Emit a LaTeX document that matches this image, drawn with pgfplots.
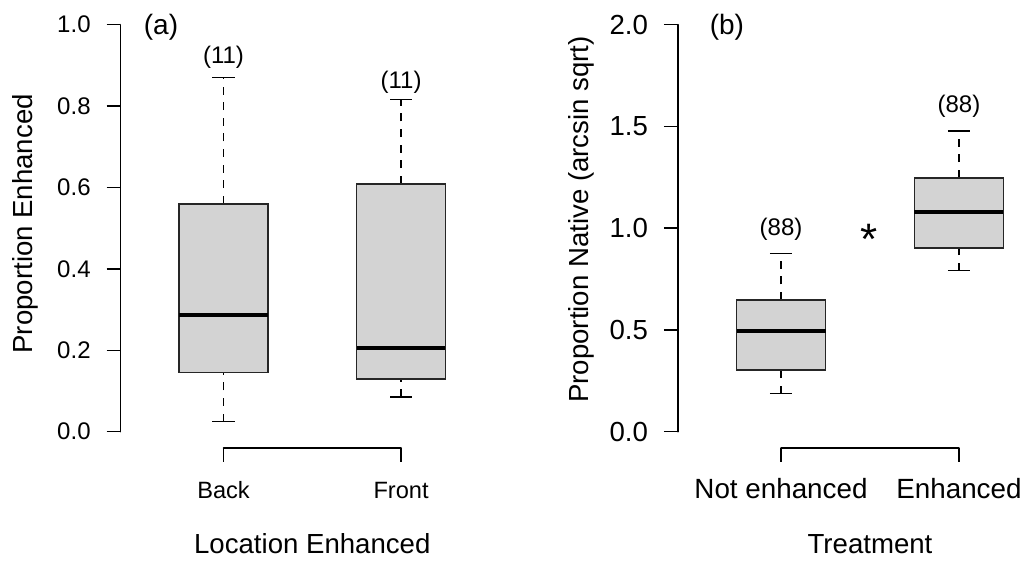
\documentclass[border=0pt]{standalone}
\usepackage{pgfplots}
\pgfplotsset{compat=1.18}
\usepgfplotslibrary{statistics}
\usepackage{fontspec}
\setmainfont{Liberation Sans}
\definecolor{boxgray}{RGB}{211,211,211}
\newcommand{\fsz}[1]{\fontsize{#1}{#1}\selectfont}

\pgfplotsset{
  boxplot/draw/lower whisker/.code={%
    \draw[/pgfplots/boxplot/every whisker/.try, dash pattern=on 4pt off 3.8pt]
      (boxplot box cs:\pgfplotsboxplotvalue{lower whisker},0.5) --
      (boxplot box cs:\pgfplotsboxplotvalue{lower quartile},0.5);
    \draw[/pgfplots/boxplot/every whisker/.try]
      (boxplot whisker cs:\pgfplotsboxplotvalue{lower whisker},0) --
      (boxplot whisker cs:\pgfplotsboxplotvalue{lower whisker},1);
  },
  boxplot/draw/upper whisker/.code={%
    \draw[/pgfplots/boxplot/every whisker/.try, dash pattern=on 4pt off 3.8pt]
      (boxplot box cs:\pgfplotsboxplotvalue{upper quartile},0.5) --
      (boxplot box cs:\pgfplotsboxplotvalue{upper whisker},0.5);
    \draw[/pgfplots/boxplot/every whisker/.try]
      (boxplot whisker cs:\pgfplotsboxplotvalue{upper whisker},0) --
      (boxplot whisker cs:\pgfplotsboxplotvalue{upper whisker},1);
  },
  rstyle/.style={
    scale only axis,
    anchor=south west,
    clip=false,
    axis x line*=bottom,
    axis y line*=left,
    axis line style={draw=none},
    tick align=outside,
    major tick length=7pt,
    tick style={black, line width=0.75pt},
    xmin=0.42, xmax=2.58,
    xtick={1,2},
    /pgf/number format/fixed,
    /pgf/number format/fixed zerofill,
    /pgf/number format/precision=1,
    /pgf/number format/assume math mode=true,
    yticklabel style={anchor=east, inner sep=0pt, xshift=-7.75pt},
    xticklabel style={anchor=base, inner sep=0pt, yshift=-18.15pt},
    xlabel style={at={(axis description cs:0.5,-0.2395)}, anchor=base, inner sep=0pt, font=\fsz{13.8}},
    ylabel style={anchor=base, inner sep=0pt, font=\fsz{13.8}},
    boxplot/draw direction=y,
    boxplot/box extend=0.5,
    boxplot/whisker extend=0.124,
    boxplot/every box/.style={fill=boxgray, draw=black!85, line width=0.8pt},
    boxplot/every median/.style={black, line width=2pt},
    boxplot/every whisker/.style={black, line width=0.65pt},
  },
}

\begin{document}
\begin{tikzpicture}
% ---------------- panel (a)
\begin{axis}[rstyle,
  at={(60.25pt,56.5pt)}, width=191.8pt, height=219.8pt,
  ymin=-0.04, ymax=1.04,
  ytick={0,0.2,0.4,0.6,0.8,1},
  xticklabels={Back,Front},
  xticklabel style={font=\fsz{11.8}},
  yticklabel style={font=\fsz{12}},
  xlabel={Location Enhanced},
  ylabel={Proportion Enhanced},
  ylabel style={at={(axis description cs:-0.2281,0.51)}},
]
\addplot[black, boxplot prepared={lower whisker=0.025, lower quartile=0.145, median=0.287, upper quartile=0.560, upper whisker=0.870, draw position=1}] coordinates {};
\addplot[black, boxplot prepared={lower whisker=0.085, lower quartile=0.129, median=0.205, upper quartile=0.609, upper whisker=0.817, draw position=2}] coordinates {};
\draw[black, line width=0.75pt, line cap=round] (axis cs:0.42,0) -- (axis cs:0.42,1);
\draw[black, line width=0.75pt, line cap=round] (axis cs:1,-0.04) -- (axis cs:2,-0.04);
\node[font=\fsz{12}] at (axis cs:1,0.919) {(11)};
\node[font=\fsz{12}] at (axis cs:2,0.858) {(11)};
\node[font=\fsz{14}] at (axis cs:0.648,0.994) {(a)};
\end{axis}
% ---------------- panel (b)
\begin{axis}[rstyle,
  at={(338.9pt,56.5pt)}, width=192.2pt, height=219.8pt,
  ymin=-0.08, ymax=2.08,
  ytick={0,0.5,1,1.5,2},
  xticklabels={Not enhanced,Enhanced},
  xticklabel style={font=\fsz{13.9}},
  yticklabel style={font=\fsz{13.8}},
  xlabel={Treatment},
  ylabel={Proportion Native (arcsin sqrt)},
  ylabel style={at={(axis description cs:-0.2336,0.52)}},
]
\addplot[black, boxplot prepared={lower whisker=0.187, lower quartile=0.302, median=0.496, upper quartile=0.647, upper whisker=0.877, draw position=1}] coordinates {};
\addplot[black, boxplot prepared={lower whisker=0.791, lower quartile=0.903, median=1.078, upper quartile=1.248, upper whisker=1.478, draw position=2}] coordinates {};
\draw[black, line width=0.75pt, line cap=round] (axis cs:0.42,0) -- (axis cs:0.42,2);
\draw[black, line width=0.75pt, line cap=round] (axis cs:1,-0.08) -- (axis cs:2,-0.08);
\node[font=\fsz{12}] at (axis cs:1,0.995) {(88)};
\node[font=\fsz{12}] at (axis cs:2,1.597) {(88)};
\node[font=\fsz{14}] at (axis cs:0.696,1.989) {(b)};
\node[font=\fsz{22}, anchor=base, inner sep=0pt] at (axis cs:1.494,0.87) {*};
\end{axis}
\pgfresetboundingbox
\path[use as bounding box] (0,0) rectangle (512pt,280.5pt);
\end{tikzpicture}
\end{document}
